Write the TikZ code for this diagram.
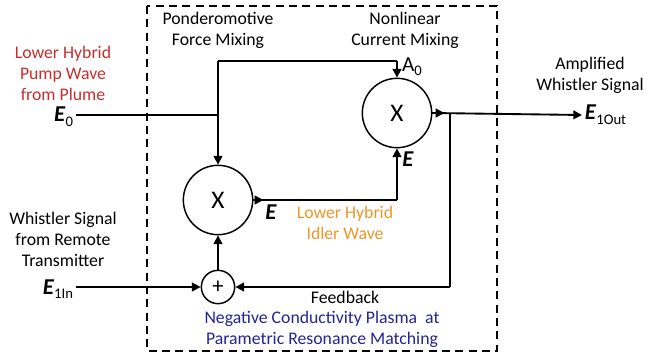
\documentclass[tikz,border=0pt]{standalone}
\usepackage{fontspec}
\setmainfont{Carlito}
\usetikzlibrary{arrows.meta}
\definecolor{pumpred}{RGB}{200,45,45}
\definecolor{idleorange}{RGB}{236,150,40}
\definecolor{plasmablue}{RGB}{35,35,150}
\newcommand{\fieldE}[1]{{\fontsize{17}{20}\selectfont\textbf{\textit{E}}}\raisebox{-3.5pt}{\fontsize{11}{12}\selectfont #1}}
\tikzset{
    >={Triangle[length=6.5pt,width=6.5pt]},
    wire/.style={line width=1.4pt},
    mixer/.style={circle, draw, line width=1.1pt, minimum size=52pt, inner sep=0pt, font=\fontsize{19}{22}\selectfont},
    adder/.style={circle, draw, line width=1.1pt, minimum size=25pt, inner sep=0pt, font=\fontsize{17}{20}\selectfont},
    lbl/.style={align=center, inner sep=0pt, font=\fontsize{13.3}{15.8}\selectfont}
}
\begin{document}
\begin{tikzpicture}[x=0.75pt, y=-0.75pt]
    \useasboundingbox (0,0) rectangle (649,360);
    % Plasma region
    \draw[line width=1.1pt, dash pattern=on 6pt off 4pt] (147,6) rectangle (497,351);
    % Mixers
    \node[mixer] (pm) at (218,200) {X};
    \node[mixer] (nl) at (397,113) {X};
    \node[adder] (sum) at (218,287) {+};
    % Branch points
    \coordinate (j0) at (218,115);
    \coordinate (jt) at (218,61);
    \coordinate (ja) at (397,61);
    \coordinate (jb) at (397,200);
    \coordinate (jf) at (450,113);
    \coordinate (jg) at (450,287);
    % Terminal labels
    \node[lbl, anchor=east, inner sep=2pt] (e0) at (76,117) {\fieldE{0}};
    \node[lbl, anchor=east, inner sep=2pt] (e1in) at (76,289) {\fieldE{1In}};
    \node[lbl, anchor=west, inner sep=2pt] (e1out) at (582,115) {\fieldE{1Out}};
    % Pump path
    \draw[wire] (e0.east |- j0) -- (j0);
    \draw[wire] (ja) -- (jt);
    \draw[wire, ->] (jt) -- (pm.north);
    \draw[wire, ->] (ja) -- (nl.north);
    % Idler path
    \draw[wire] (pm.east) -- (jb);
    \draw[wire, ->] (pm.east) -- ++(10,0);
    \draw[wire, ->] (jb) -- (nl.south);
    % Output and feedback
    \draw[wire, ->] (nl.east) -- ++(12,0);
    \draw[wire, ->] (nl.east) -- (e1out.west);
    \draw[wire] (jf) -- (jg);
    \draw[wire, ->] (jg) -- (sum.east);
    \draw[wire, ->] (e1in.east |- sum) -- (sum.west);
    \draw[wire, ->] (sum.north) -- (pm.south);
    % Field labels
    \node[lbl, font=\fontsize{16}{19}\selectfont] (ea) at (412,67) {A\raisebox{-3pt}{\fontsize{11}{12}\selectfont 0}};
    \node[lbl, font=\fontsize{17}{20}\selectfont] (eb) at (408,159) {\textbf{\textit{E}}};
    \node[lbl, font=\fontsize{17}{20}\selectfont] (ec) at (271,212) {\textbf{\textit{E}}};
    % Text
    \node[lbl, pumpred] (pump) at (63,73) {Lower Hybrid\\Pump Wave\\from Plume};
    \node[lbl] (ponder) at (218,30) {Ponderomotive\\Force Mixing};
    \node[lbl] (nlmix) at (405,30) {Nonlinear\\Current Mixing};
    \node[lbl] (ampl) at (590,75) {Amplified\\Whistler Signal};
    \node[lbl] (remote) at (63,239) {Whistler Signal\\from Remote\\Transmitter};
    \node[lbl, idleorange] (idler) at (345,223) {Lower Hybrid\\Idler Wave};
    \node[lbl] (fb) at (345,297) {Feedback};
    \node[lbl, plasmablue] (plasma) at (322,329) {Negative Conductivity Plasma\ \ at\\Parametric Resonance Matching};
\end{tikzpicture}
\end{document}
